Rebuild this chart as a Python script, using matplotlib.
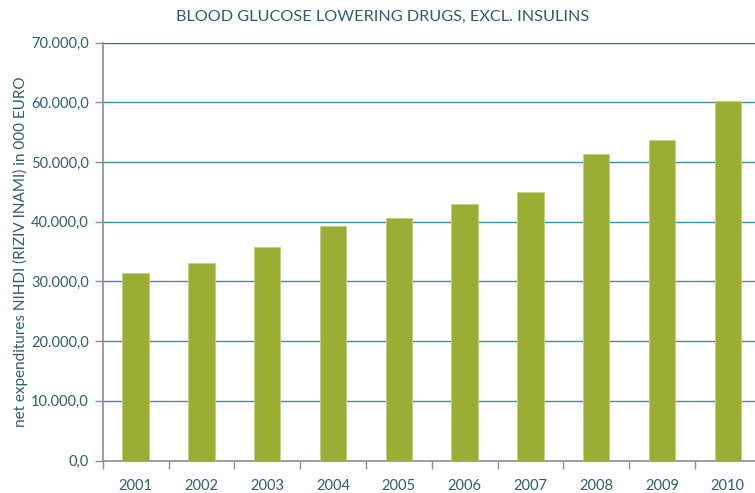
import matplotlib
matplotlib.use("Agg")
import matplotlib.pyplot as plt
import numpy as np

years = ["2001", "2002", "2003", "2004", "2005", "2006", "2007", "2008", "2009", "2010"]
values = [31400, 33100, 35800, 39300, 40600, 43000, 45000, 51300, 53700, 60200]
yticks = [0, 10000, 20000, 30000, 40000, 50000, 60000, 70000]
ytick_labels = ["0,0", "10.000,0", "20.000,0", "30.000,0", "40.000,0", "50.000,0", "60.000,0", "70.000,0"]

plt.rcParams['font.family'] = ['Lato', 'DejaVu Sans']
text_color = "#2E5F70"
grid_color = "#3A8FA0"
bar_color = "#9BAD33"

fig = plt.figure(figsize=(7.55, 4.93), dpi=100)
ax = fig.add_axes([102.7/755, 1 - 460.5/493, 658/755, 418/493])

x = np.arange(len(years))
ax.bar(x, values, width=0.4, color=bar_color, edgecolor="#C3CF86", linewidth=0.6, zorder=3)

ax.set_xlim(-0.5, len(years) - 0.5)
ax.set_ylim(0, 70000)
ax.set_yticks(yticks)
ax.set_yticklabels(ytick_labels, color=text_color, fontsize=10.5)
ax.set_xticks(x)
ax.set_xticklabels(years, color=text_color, fontsize=10.5)
ax.tick_params(axis='x', length=0, pad=13)
ax.set_xticks(np.arange(-0.5, len(years), 1), minor=True)
ax.tick_params(axis='x', which='minor', length=6, color="#8C8C8C", width=1)
ax.tick_params(axis='y', length=6, color="#8C8C8C", width=1, pad=4)

for y in yticks[1:]:
    ax.axhline(y, color=grid_color if y < 70000 else "#2E7385", linewidth=1.0, zorder=1)

for s in ["top", "right"]:
    ax.spines[s].set_visible(False)
ax.spines["left"].set_color("#8C8C8C")
ax.spines["bottom"].set_color("#8C8C8C")
ax.spines["left"].set_linewidth(1.2)
ax.spines["bottom"].set_linewidth(1.2)

ax.set_ylabel("net expenditures NIHDI (RIZIV INAMI) in 000 EURO", color=text_color, fontsize=11, labelpad=2)
fig.text(383/755, 1 - 17/493, "BLOOD GLUCOSE LOWERING DRUGS, EXCL. INSULINS", ha="center", va="center",
         color=text_color, fontsize=11.7)

fig.savefig("out.png", dpi=100)
